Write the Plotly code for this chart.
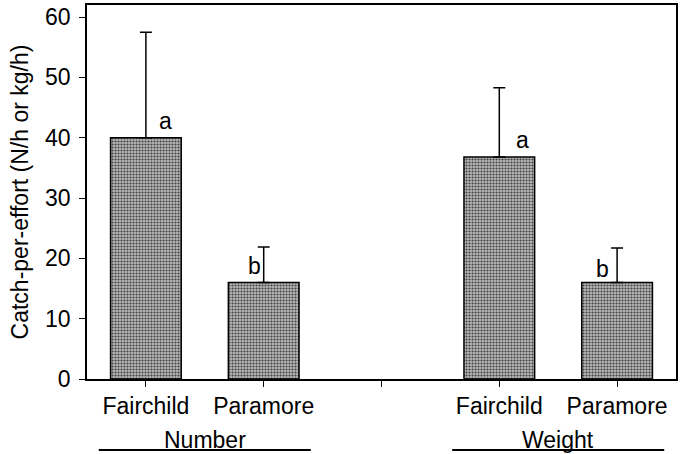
import plotly.graph_objects as go

# ---- data ----
groups = ["Number", "Weight"]
sites = ["Fairchild", "Paramore"]
means = [[40.0, 16.0], [36.8, 16.0]]          # per group, per site
upper_err = [[17.5, 5.9], [11.5, 5.7]]        # upward SE
letters = [["a", "b"], ["a", "b"]]
y_ticks = [0, 10, 20, 30, 40, 50, 60]

FONT = "Liberation Sans, Arial, Helvetica, sans-serif"

# derived positions: two sites per group, one empty slot between groups
xs, ys, es, labs = [], [], [], []
for gi, g in enumerate(groups):
    for si, s in enumerate(sites):
        xs.append(gi * 3 + si)
        ys.append(means[gi][si])
        es.append(upper_err[gi][si])
        labs.append(letters[gi][si])

tickvals = list(range(len(groups) * 3 - 1))
ticktext = []
for gi in range(len(groups)):
    ticktext += sites
    if gi < len(groups) - 1:
        ticktext.append("")
xmin, xmax = -0.5, len(tickvals) - 0.5

fig = go.Figure()
fig.add_trace(go.Bar(
    x=xs, y=ys, width=0.6,
    marker=dict(
        color="#8e8e8e",
        line=dict(color="black", width=1.5),
        pattern=dict(shape=".", size=3, solidity=0.4,
                     fgcolor="#404040", bgcolor="#b8b8b8", fillmode="replace"),
    ),
    error_y=dict(type="data", symmetric=False, array=es,
                 arrayminus=[0] * len(es), color="black",
                 thickness=1.5, width=6),
    showlegend=False,
    hoverinfo="skip",
))

# significance letters
offsets = [(20, 2), (-9, 1), (23, 2), (-15, -2)]  # pixel shifts (x, y)
for i, (x, y, e, t) in enumerate(zip(xs, ys, es, labs)):
    dx, dy = offsets[i]
    fig.add_annotation(x=x, y=y, text=t, showarrow=False,
                       xanchor="center", yanchor="bottom",
                       xshift=dx, yshift=dy,
                       font=dict(family=FONT, size=23, color="black"))

# group labels with underline
for gi, g in enumerate(groups):
    cx = gi * 3 + 0.5
    px = (cx - xmin) / (xmax - xmin)
    half = 0.9 / (xmax - xmin)
    fig.add_annotation(x=px, xref="paper", y=-0.204, yref="paper", text=g,
                       showarrow=False, xanchor="center", yanchor="bottom",
                       font=dict(family=FONT, size=23, color="black"))
    fig.add_shape(type="line", xref="paper", yref="paper",
                  x0=px - half, x1=px + half, y0=-0.19, y1=-0.19,
                  line=dict(color="black", width=2))

fig.update_layout(
    width=683, height=454,
    margin=dict(l=87, r=7, t=5, b=75, autoexpand=False),
    paper_bgcolor="white", plot_bgcolor="white",
    font=dict(family=FONT, color="black"),
    bargap=0.4,
)
fig.update_xaxes(
    range=[xmin, xmax],
    tickvals=tickvals, ticktext=ticktext,
    ticks="outside", ticklen=6, tickwidth=1.2, tickcolor="black",
    showline=True, linecolor="black", linewidth=1.5, mirror=True,
    showgrid=False, zeroline=False, automargin=False,
    tickfont=dict(family=FONT, size=23, color="black"),
)
fig.update_yaxes(
    range=[0, 62], tickvals=y_ticks,
    ticks="outside", ticklen=6, tickwidth=1.2, tickcolor="black",
    showline=True, linecolor="black", linewidth=1.5, mirror=True,
    showgrid=False, zeroline=False, automargin=False,
    tickfont=dict(family=FONT, size=23, color="black"),
    ticklabelstandoff=4,
    title=dict(text="Catch-per-effort (N/h or kg/h)",
               font=dict(family=FONT, size=23, color="black"), standoff=10),
)

fig.write_html("out.html",
               config={"displayModeBar": False},
               post_script="document.body.style.margin='0';document.body.style.overflow='hidden';")
